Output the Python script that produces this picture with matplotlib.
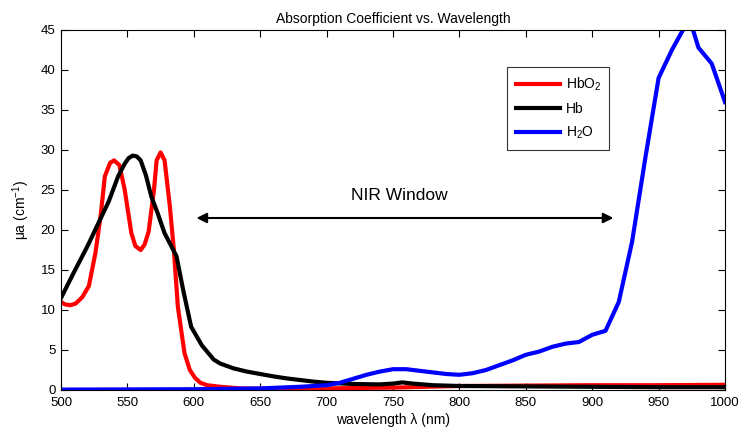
import matplotlib
matplotlib.use("Agg")
import matplotlib.pyplot as plt

plt.rcParams['font.family'] = ['Liberation Sans', 'DejaVu Sans']
plt.rcParams['mathtext.default'] = 'regular'

wl_hbo2 = [500, 503, 507, 511, 516, 521, 526, 530, 533, 537, 540, 544, 548, 553, 556,
           560, 563, 566, 570, 572, 575, 578, 582, 585, 588, 593, 597, 601, 605, 610,
           620, 635, 650, 700, 750, 800, 850, 900, 950, 1000]
hbo2 = [11.0, 10.7, 10.6, 10.8, 11.6, 13.0, 17.2, 22.0, 26.7, 28.4, 28.7, 28.1, 25.0,
        19.6, 18.0, 17.5, 18.2, 19.8, 25.0, 28.7, 29.7, 28.7, 22.9, 17.5, 10.4, 4.6,
        2.5, 1.5, 0.9, 0.6, 0.4, 0.2, 0.15, 0.2, 0.3, 0.5, 0.55, 0.6, 0.6, 0.65]

wl_hb = [500, 510, 520, 528, 536, 543, 548, 551, 554, 557, 560, 564, 568, 573, 578,
         583, 587, 592, 598, 606, 615, 620, 630, 640, 650, 660, 670, 680, 690, 700,
         720, 740, 750, 757, 765, 780, 800, 850, 900, 950, 1000]
hb = [11.5, 14.8, 18.0, 20.8, 23.6, 26.7, 28.3, 29.0, 29.3, 29.2, 28.7, 26.8, 24.2,
      22.0, 19.6, 18.0, 16.7, 12.5, 7.9, 5.6, 3.8, 3.3, 2.7, 2.3, 2.0, 1.7, 1.45, 1.25,
      1.05, 0.9, 0.75, 0.7, 0.8, 0.95, 0.8, 0.6, 0.5, 0.45, 0.4, 0.35, 0.35]

wl_h2o = [500, 600, 650, 680, 700, 710, 720, 730, 740, 750, 760, 770, 780, 790, 800,
          810, 820, 830, 840, 850, 860, 870, 880, 890, 900, 910, 920, 930, 940, 950,
          960, 970, 975, 980, 990, 1000]
h2o = [0.05, 0.1, 0.2, 0.4, 0.6, 0.9, 1.4, 1.9, 2.3, 2.6, 2.6, 2.4, 2.2, 2.0, 1.9,
       2.1, 2.5, 3.1, 3.7, 4.4, 4.8, 5.4, 5.8, 6.0, 6.9, 7.4, 11.0, 18.5, 29.0, 39.0,
       42.5, 45.5, 45.5, 42.8, 40.8, 36.0]

xticks = [500, 550, 600, 650, 700, 750, 800, 850, 900, 950, 1000]
yticks = [0, 5, 10, 15, 20, 25, 30, 35, 40, 45]

fig = plt.figure(figsize=(7.4, 4.38), dpi=100)
ax = fig.add_axes([61/740, 1-390/438, 664/740, 360/438])

ax.plot(wl_hbo2, hbo2, color='#ff0000', lw=3, label='HbO$_2$', solid_joinstyle='round')
ax.plot(wl_hb, hb, color='#000000', lw=3, label='Hb', solid_joinstyle='round')
ax.plot(wl_h2o, h2o, color='#0000ff', lw=3, label='H$_2$O', solid_joinstyle='round')

ax.set_xlim(500, 1000)
ax.set_ylim(0, 45)
ax.set_xticks(xticks)
ax.set_yticks(yticks)
ax.tick_params(direction='in', top=True, right=True, length=5, labelsize=9.5,
               width=0.8)
ax.tick_params(axis='x', pad=5)
ax.tick_params(axis='y', pad=4)
for s in ax.spines.values():
    s.set_linewidth(0.8)

ax.set_title('Absorption Coefficient vs. Wavelength', fontsize=10, pad=5)
ax.set_xlabel('wavelength λ (nm)', fontsize=10, labelpad=3)
ax.set_ylabel('μa (cm$^{-1}$)', fontsize=10, labelpad=6)

ax.annotate('', xy=(602, 21.5), xytext=(916, 21.5),
            arrowprops=dict(arrowstyle='<|-|>', color='black', lw=1.5,
                            mutation_scale=15, shrinkA=0, shrinkB=0))
ax.text(755, 24.3, 'NIR Window', ha='center', va='center', fontsize=12.5)

leg = ax.legend(loc='upper left', bbox_to_anchor=(0.672, 0.897), fontsize=10,
                frameon=True, fancybox=False, edgecolor='black', handlelength=3.2,
                borderpad=0.6, labelspacing=0.65, handletextpad=0.4,
                borderaxespad=0)
leg.get_frame().set_linewidth(0.8)

fig.savefig('out.png', dpi=100)
